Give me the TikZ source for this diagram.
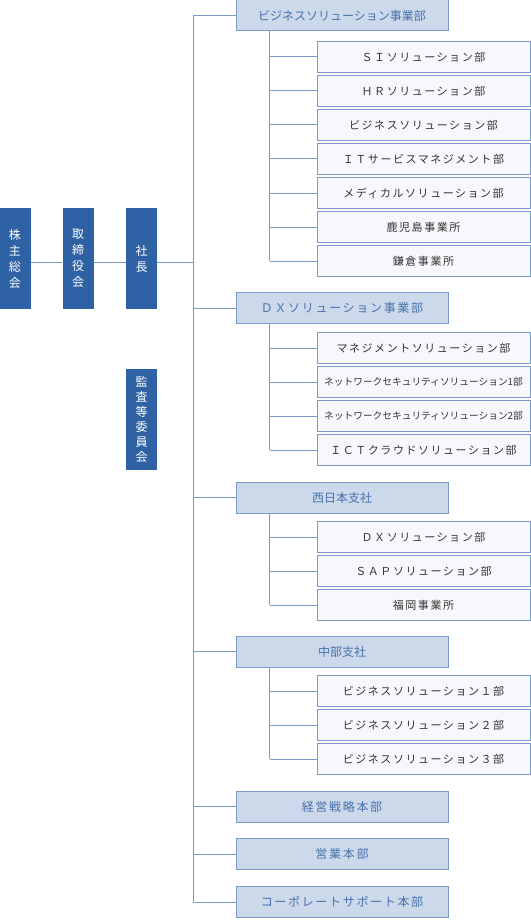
\documentclass[tikz,border=0pt]{standalone}
\usepackage{fontspec}
\setmainfont{Noto Sans CJK JP}
\newfontfamily\jpwide[LetterSpace=14]{Noto Sans CJK JP}
\usetikzlibrary{positioning,calc}
\definecolor{bossblue}{HTML}{2F62A4}
\definecolor{headfill}{HTML}{CCD9EA}
\definecolor{headline}{HTML}{7A9ACB}
\definecolor{headtext}{HTML}{4871AD}
\definecolor{unitfill}{HTML}{F6F8FB}
\definecolor{unittext}{HTML}{333333}

\tikzset{
  bossbox/.style={rectangle, fill=bossblue, text=white, minimum width=31pt, minimum height=101pt, inner sep=0pt, align=center, font=\fontsize{12}{16}\selectfont},
  headbox/.style={rectangle, draw=headline, fill=headfill, text=headtext, line width=1pt, minimum width=212pt, minimum height=31pt, inner sep=0pt, font=\fontsize{12}{14}\selectfont},
  unitbox/.style={rectangle, draw=headline, fill=unitfill, text=unittext, line width=1pt, minimum width=213pt, minimum height=31pt, inner sep=0pt, font=\jpwide\fontsize{11}{13}\selectfont},
  tline/.style={draw=headline, line width=1pt}
}

\begin{document}
\begin{tikzpicture}[x=1pt, y=-1pt, node distance=2pt]
\useasboundingbox (0,0) rectangle (530,920);
% top management
\node[bossbox] (kabunushi) at (15,258.5) {株\\主\\総\\会};
\node[bossbox] (torishimari) at (78,258.5) {取\\締\\役\\会};
\node[bossbox] (shacho) at (141.5,258.5) {社\\長};
\node[bossbox, font=\fontsize{12}{15}\selectfont] (kansa) at (141.5,419) {監\\査\\等\\委\\員\\会};
\coordinate (tk) at (193,262);

% head units
\node[headbox] (bizhq) at (342,15.5) {ビジネスソリューション事業部};
\node[headbox, font=\jpwide\fontsize{12}{14}\selectfont] (dxhq) at (342,308) {ＤＸソリューション事業部};
\node[headbox] (west) at (342,497.5) {西日本支社};
\node[headbox] (chubu) at (342,651.5) {中部支社};
\node[headbox, font=\jpwide\fontsize{12}{14}\selectfont] (keiei) at (342,806.5) {経営戦略本部};
\node[headbox, font=\jpwide\fontsize{12}{14}\selectfont] (eigyo) at (342,854) {営業本部};
\node[headbox, font=\jpwide\fontsize{12}{14}\selectfont] (corp) at (342,902) {コーポレートサポート本部};

% business solution
\node[unitbox] (si) at (423.5,57) {ＳＩソリューション部};
\node[unitbox, below=of si] (hr) {ＨＲソリューション部};
\node[unitbox, below=of hr] (biz) {ビジネスソリューション部};
\node[unitbox, below=of biz] (itsm) {ＩＴサービスマネジメント部};
\node[unitbox, below=of itsm] (medical) {メディカルソリューション部};
\node[unitbox, below=of medical] (kagoshima) {鹿児島事業所};
\node[unitbox, below=of kagoshima] (kamakura) {鎌倉事業所};

% dx solution
\node[unitbox] (mgmt) at (423.5,348) {マネジメントソリューション部};
\node[unitbox, below=of mgmt, font=\fontsize{9.7}{12}\selectfont] (net1) {ネットワークセキュリティソリューション1部};
\node[unitbox, below=of net1, font=\fontsize{9.7}{12}\selectfont] (net2) {ネットワークセキュリティソリューション2部};
\node[unitbox, below=of net2] (ict) {ＩＣＴクラウドソリューション部};

% west japan
\node[unitbox] (wdx) at (423.5,537) {ＤＸソリューション部};
\node[unitbox, below=of wdx] (sap) {ＳＡＰソリューション部};
\node[unitbox, below=of sap] (fukuoka) {福岡事業所};

% chubu
\node[unitbox] (cb1) at (423.5,691) {ビジネスソリューション１部};
\node[unitbox, below=of cb1] (cb2) {ビジネスソリューション２部};
\node[unitbox, below=of cb2] (cb3) {ビジネスソリューション３部};

% connectors
\draw[tline] (kabunushi.east |- tk) -- (torishimari.west |- tk);
\draw[tline] (torishimari.east |- tk) -- (shacho.west |- tk);
\draw[tline] (shacho.east |- tk) -- (tk);
\draw[tline] (bizhq.west -| tk) -- (corp.west -| tk);
\foreach \h in {bizhq,dxhq,west,chubu,keiei,eigyo,corp}
  \draw[tline] (\h.west) -- (\h.west -| tk);

\coordinate (s1) at ($(bizhq.south west)+(34,0)$);
\draw[tline] (s1) -- (s1 |- kamakura.west);
\foreach \c in {si,hr,biz,itsm,medical,kagoshima,kamakura}
  \draw[tline] (\c.west) -- (\c.west -| s1);

\coordinate (s2) at ($(dxhq.south west)+(34,0)$);
\draw[tline] (s2) -- (s2 |- ict.west);
\foreach \c in {mgmt,net1,net2,ict}
  \draw[tline] (\c.west) -- (\c.west -| s2);

\coordinate (s3) at ($(west.south west)+(34,0)$);
\draw[tline] (s3) -- (s3 |- fukuoka.west);
\foreach \c in {wdx,sap,fukuoka}
  \draw[tline] (\c.west) -- (\c.west -| s3);

\coordinate (s4) at ($(chubu.south west)+(34,0)$);
\draw[tline] (s4) -- (s4 |- cb3.west);
\foreach \c in {cb1,cb2,cb3}
  \draw[tline] (\c.west) -- (\c.west -| s4);
\end{tikzpicture}
\end{document}
